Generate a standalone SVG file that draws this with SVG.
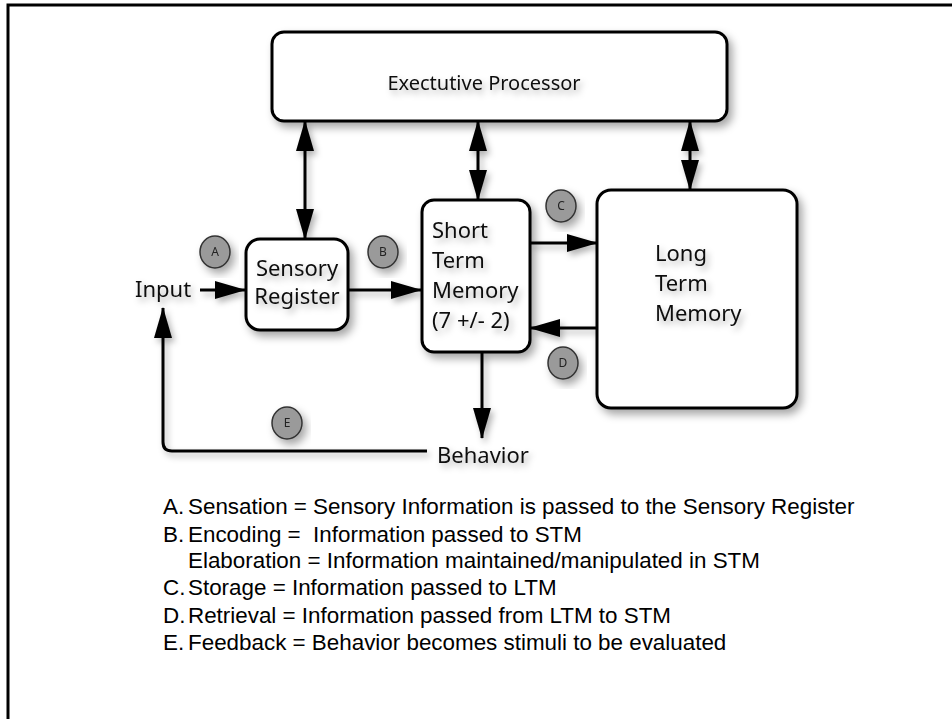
<svg xmlns="http://www.w3.org/2000/svg" width="952" height="719" viewBox="0 0 952 719">
<style>
.box{fill:#fff;stroke:#000;stroke-width:3}
.lbl{font-family:"Noto Sans","Open Sans",sans-serif;font-size:22px;fill:#111}
.exec{font-size:20px}
.badge{fill:#9a9a9a;stroke:#333;stroke-width:1.5}
.btxt{font-family:"Noto Sans",sans-serif;font-size:12px;fill:#222;text-anchor:middle}
.conn{stroke:#000;stroke-width:3;fill:none}
.legend{font-family:"Liberation Sans",Arial,sans-serif;font-size:22.4px;fill:#000}
</style>
<defs>
<filter id="sh" x="-20%" y="-20%" width="150%" height="150%">
<feDropShadow dx="4" dy="5" stdDeviation="4" flood-color="#000" flood-opacity="0.35"/>
</filter>
<filter id="tsh" x="-20%" y="-40%" width="150%" height="200%">
<feDropShadow dx="3" dy="4" stdDeviation="3" flood-color="#000" flood-opacity="0.3"/>
</filter>
<marker id="ah" markerUnits="userSpaceOnUse" markerWidth="32" markerHeight="20" refX="30" refY="9" orient="auto-start-reverse">
<path d="M0,0 L31,9 L0,18 z" fill="#000"/>
</marker>
</defs>
<rect width="952" height="719" fill="#fff"/>
<path d="M8,719 V5 H952" fill="none" stroke="#000" stroke-width="3"/>

<g id="connectors" filter="url(#tsh)">
<line class="conn" x1="200" y1="290" x2="245" y2="290" marker-end="url(#ah)"/>
<line class="conn" x1="348" y1="290" x2="421" y2="290" marker-end="url(#ah)"/>
<line class="conn" x1="530" y1="243" x2="597" y2="243" marker-end="url(#ah)"/>
<line class="conn" x1="597" y1="328" x2="530" y2="328" marker-end="url(#ah)"/>
<line class="conn" x1="482" y1="352" x2="482" y2="438" marker-end="url(#ah)"/>
<path class="conn" d="M427,451 H172 Q163,451 163,442 V308" marker-end="url(#ah)"/>
<line class="conn" x1="305" y1="121" x2="305" y2="239" marker-start="url(#ah)" marker-end="url(#ah)"/>
<line class="conn" x1="478" y1="121" x2="478" y2="200" marker-start="url(#ah)" marker-end="url(#ah)"/>
<line class="conn" x1="690" y1="121" x2="690" y2="190" marker-start="url(#ah)" marker-end="url(#ah)"/>
</g>

<g id="exec">
<rect class="box" x="272" y="32" width="455" height="89" rx="12" filter="url(#sh)"/>
<text class="lbl exec" x="484" y="90" text-anchor="middle" filter="url(#tsh)">Exectutive Processor</text>
</g>
<g id="sensory">
<rect class="box" x="246" y="239" width="102" height="91" rx="14" filter="url(#sh)"/>
<text class="lbl" x="297" y="276" text-anchor="middle" filter="url(#tsh)">Sensory</text>
<text class="lbl" x="297" y="304" text-anchor="middle" filter="url(#tsh)">Register</text>
</g>
<g id="stm">
<rect class="box" x="422" y="200" width="108" height="152" rx="12" filter="url(#sh)"/>
<g filter="url(#tsh)">
<text class="lbl" x="432" y="238">Short</text>
<text class="lbl" x="432" y="268">Term</text>
<text class="lbl" x="432" y="298">Memory</text>
<text class="lbl" x="432" y="328">(7 +/- 2)</text>
</g>
</g>
<g id="ltm">
<rect class="box" x="597" y="190" width="200" height="218" rx="14" filter="url(#sh)"/>
<g filter="url(#tsh)">
<text class="lbl" x="655" y="261">Long</text>
<text class="lbl" x="655" y="291">Term</text>
<text class="lbl" x="655" y="321">Memory</text>
</g>
</g>
<g id="input"><text class="lbl" x="135" y="297" filter="url(#tsh)">Input</text></g>
<g id="behavior"><text class="lbl" x="437" y="463" filter="url(#tsh)">Behavior</text></g>

<g id="badgeA" filter="url(#sh)"><ellipse class="badge" cx="215" cy="252" rx="15" ry="16"/><text class="btxt" x="215" y="256">A</text></g>
<g id="badgeB" filter="url(#sh)"><ellipse class="badge" cx="383" cy="252" rx="15" ry="16"/><text class="btxt" x="383" y="256">B</text></g>
<g id="badgeC" filter="url(#sh)"><ellipse class="badge" cx="561" cy="206" rx="15" ry="16"/><text class="btxt" x="561" y="210">C</text></g>
<g id="badgeD" filter="url(#sh)"><ellipse class="badge" cx="563" cy="363" rx="15" ry="16"/><text class="btxt" x="563" y="367">D</text></g>
<g id="badgeE" filter="url(#sh)"><ellipse class="badge" cx="287" cy="423" rx="15" ry="16"/><text class="btxt" x="287" y="427">E</text></g>

<g id="legend" class="legend">
<text x="163" y="514">A.</text><text x="188" y="514">Sensation = Sensory Information is passed to the Sensory Register</text>
<text x="163" y="542">B.</text><text x="188" y="542" xml:space="preserve">Encoding =  Information passed to STM</text>
<text x="188" y="568">Elaboration = Information maintained/manipulated in STM</text>
<text x="163" y="595">C.</text><text x="188" y="595">Storage = Information passed to LTM</text>
<text x="163" y="623">D.</text><text x="188" y="623">Retrieval = Information passed from LTM to STM</text>
<text x="163" y="650">E.</text><text x="188" y="650">Feedback = Behavior becomes stimuli to be evaluated</text>
</g>
</svg>
